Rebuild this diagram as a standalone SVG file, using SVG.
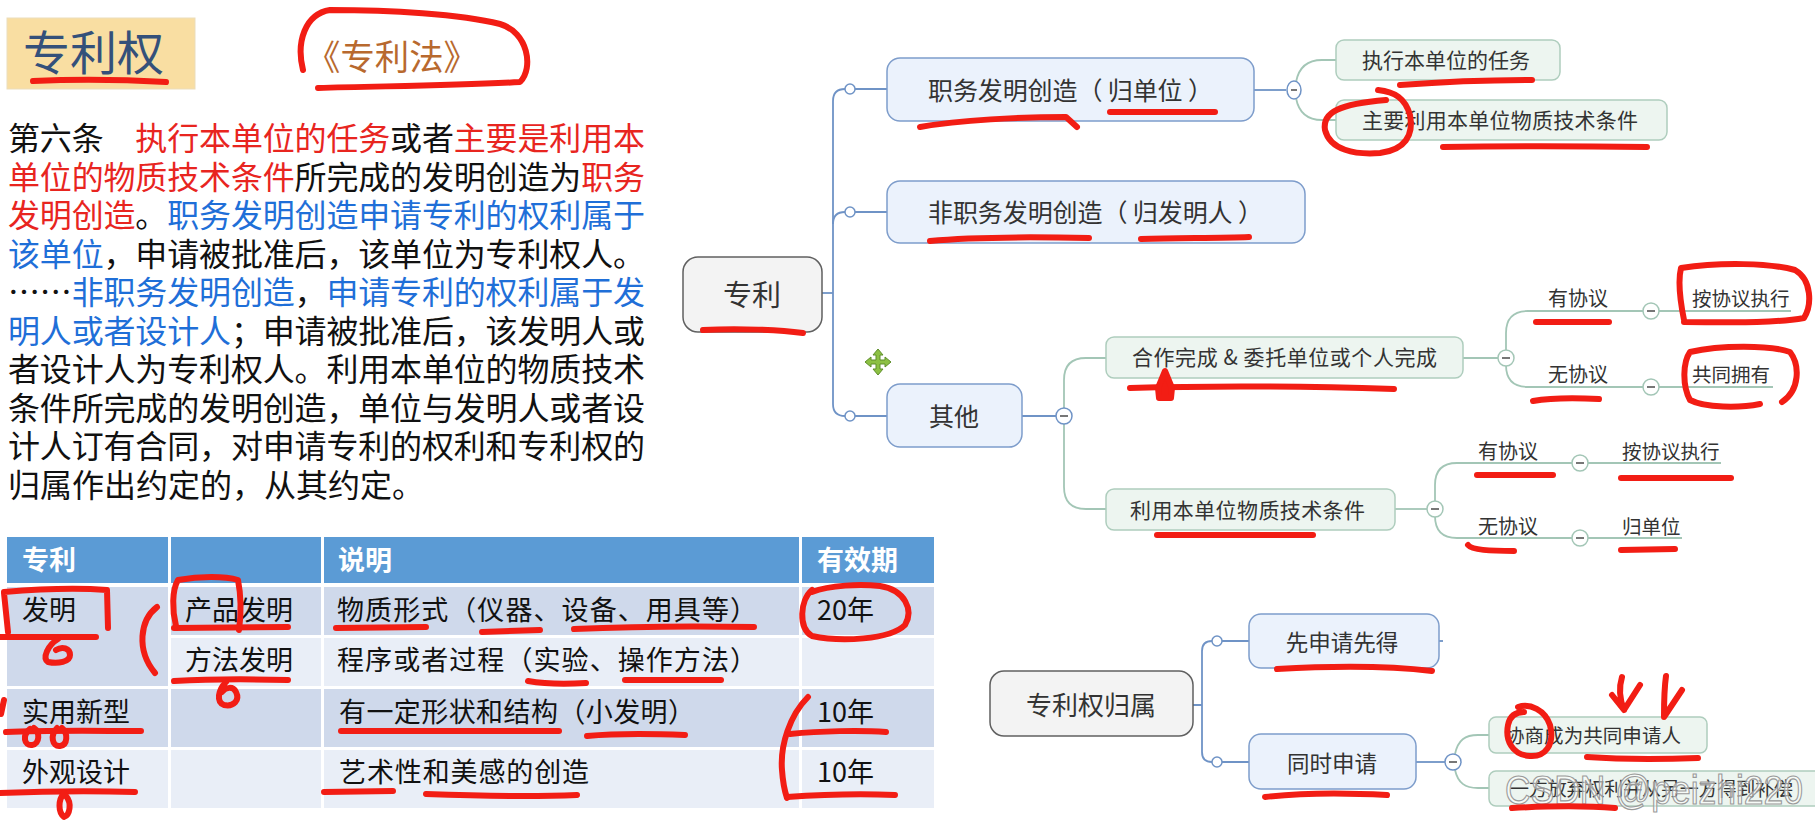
<svg xmlns="http://www.w3.org/2000/svg" width="1815" height="821" viewBox="0 0 1815 821">
<defs>
<style>
.f{font-family:"Noto Sans CJK SC","Noto Sans",sans-serif}
.p{font-size:32px;fill:#111}
.r{fill:#E8251F}
.b{fill:#1F6FD8}
.tc{font-size:27px;fill:#111}
.th{font-size:27px;fill:#fff;font-weight:bold}
.dk{fill:#CFD9EB}
.lt{fill:#E9EEF7}
.hd{fill:#5B9BD5}
.mt{fill:#333}
.root{fill:#F3F3F3;stroke:#606060;stroke-width:1.5}
.blue{fill:#EBF2FC;stroke:#7E9DCB;stroke-width:1.5}
.green{fill:#EDF5F0;stroke:#AECDBD;stroke-width:1.5}
.cb{fill:none;stroke:#6F93C6;stroke-width:1.8}
.cg{fill:none;stroke:#A3C6B6;stroke-width:1.8}
.dot{fill:#fff;stroke:#6F93C6;stroke-width:1.5}
.mb{fill:#fff;stroke:#6F93C6;stroke-width:1.5}
.mg{fill:#fff;stroke:#A3C6B6;stroke-width:1.5}
.ms{stroke:#555;stroke-width:1.6}
.ink{fill:none;stroke:#F21D14;stroke-width:6;stroke-linecap:round;stroke-linejoin:round}
</style>
</defs>
<rect width="1815" height="821" fill="#fff"/>

<!-- Title -->
<g id="title">
<rect x="7" y="18" width="188" height="71" fill="#F9DEA2" stroke="#EBDDBB" stroke-width="1"/>
<text class="f" x="23" y="70" font-size="47" fill="#34507A">专利权</text>
</g>
<g id="law">
<text class="f" x="306" y="70" font-size="35" fill="#B8692E" textLength="172" lengthAdjust="spacingAndGlyphs">《专利法》</text>
</g>

<!-- Paragraph -->
<g id="article">
<text class="f p" x="8" y="150" textLength="637">第六条　<tspan class="r">执行本单位的任务</tspan>或者<tspan class="r">主要是利用本</tspan></text>
<text class="f p" x="8" y="188.5" textLength="637"><tspan class="r">单位的物质技术条件</tspan>所完成的发明创造为<tspan class="r">职务</tspan></text>
<text class="f p" x="8" y="227" textLength="637"><tspan class="r">发明创造</tspan>。<tspan class="b">职务发明创造申请专利的权利属于</tspan></text>
<text class="f p" x="8" y="265.5" textLength="637"><tspan class="b">该单位</tspan>，申请被批准后，该单位为专利权人。</text>
<text class="f p" x="8" y="304" textLength="637">……<tspan class="b">非职务发明创造</tspan>，<tspan class="b">申请专利的权利属于发</tspan></text>
<text class="f p" x="8" y="342.5" textLength="637"><tspan class="b">明人或者设计人</tspan>；申请被批准后，该发明人或</text>
<text class="f p" x="8" y="381" textLength="637">者设计人为专利权人。利用本单位的物质技术</text>
<text class="f p" x="8" y="419.5" textLength="637">条件所完成的发明创造，单位与发明人或者设</text>
<text class="f p" x="8" y="458" textLength="637">计人订有合同，对申请专利的权利和专利权的</text>
<text class="f p" x="8" y="496.5">归属作出约定的，从其约定。</text>
</g>

<!-- Table -->
<g id="table">
<rect class="hd" x="7" y="537" width="161" height="46"/>
<rect class="hd" x="171" y="537" width="150" height="46"/>
<rect class="hd" x="324" y="537" width="475" height="46"/>
<rect class="hd" x="802" y="537" width="132" height="46"/>
<rect class="dk" x="7" y="587" width="161" height="99"/>
<rect class="dk" x="171" y="587" width="150" height="48"/>
<rect class="dk" x="324" y="587" width="475" height="48"/>
<rect class="dk" x="802" y="587" width="132" height="48"/>
<rect class="lt" x="171" y="638" width="150" height="48"/>
<rect class="lt" x="324" y="638" width="475" height="48"/>
<rect class="lt" x="802" y="638" width="132" height="48"/>
<rect class="dk" x="7" y="689" width="161" height="58"/>
<rect class="dk" x="171" y="689" width="150" height="58"/>
<rect class="dk" x="324" y="689" width="475" height="58"/>
<rect class="dk" x="802" y="689" width="132" height="58"/>
<rect class="lt" x="7" y="750" width="161" height="58"/>
<rect class="lt" x="171" y="750" width="150" height="58"/>
<rect class="lt" x="324" y="750" width="475" height="58"/>
<rect class="lt" x="802" y="750" width="132" height="58"/>
<text class="f th" x="22" y="570">专利</text>
<text class="f th" x="338" y="570">说明</text>
<text class="f th" x="817" y="570">有效期</text>
<text class="f tc" x="22" y="620">发明</text>
<text class="f tc" x="185" y="620">产品发明</text>
<text class="f tc" x="337" y="620" textLength="420">物质形式（仪器、设备、用具等）</text>
<text class="f tc" x="817" y="620">20年</text>
<text class="f tc" x="185" y="670">方法发明</text>
<text class="f tc" x="337" y="670" textLength="420">程序或者过程（实验、操作方法）</text>
<text class="f tc" x="22" y="722">实用新型</text>
<text class="f tc" x="339" y="722" textLength="356">有一定形状和结构（小发明）</text>
<text class="f tc" x="817" y="722">10年</text>
<text class="f tc" x="22" y="782">外观设计</text>
<text class="f tc" x="339" y="782" textLength="250">艺术性和美感的创造</text>
<text class="f tc" x="817" y="782">10年</text>
</g>

<!-- Connectors -->
<g id="connectors">
<path class="cb" d="M822,293 H833"/>
<path class="cb" d="M845,89 Q833,89 833,101 V404 Q833,416 845,416"/>
<path class="cb" d="M833,224 Q833,212 845,212"/>
<path class="cb" d="M855,89 H887 M855,212 H887 M855,416 H887"/>
<path class="cb" d="M1254,90 H1286"/>
<path class="cg" d="M1296,82 C1299,66 1308,60 1322,60 H1336 M1296,98 C1299,114 1308,120 1322,120 H1336"/>
<path class="cb" d="M1022,416 H1056"/>
<path class="cg" d="M1064,408 V380 Q1064,358 1086,358 H1106 M1064,424 V487 Q1064,509 1086,509 H1106"/>
<path class="cg" d="M1463,358 H1498"/>
<path class="cg" d="M1506,350 V333 Q1506,311 1528,311 H1643 M1659,311 H1791"/>
<path class="cg" d="M1506,366 V365 Q1506,387 1528,387 H1643 M1659,387 H1773"/>
<path class="cg" d="M1395,509 H1427"/>
<path class="cg" d="M1435,501 V485 Q1435,463 1457,463 H1572 M1588,463 H1721"/>
<path class="cg" d="M1435,517 V516 Q1435,538 1457,538 H1572 M1588,538 H1682"/>
<path class="cb" d="M1193,705 H1202 M1212,641 Q1202,641 1202,651 V752 Q1202,762 1212,762"/>
<path class="cb" d="M1222,641 H1249 M1222,762 H1249"/>
<path class="cb" d="M1439,641 H1443"/>
<path class="cb" d="M1416,762 H1445"/>
<path class="cg" d="M1455,754 C1458,740 1465,735 1478,735 H1489 M1455,770 C1458,783 1465,788 1478,788 H1489"/>
<circle class="dot" cx="850" cy="89" r="5"/>
<circle class="dot" cx="850" cy="212" r="5"/>
<circle class="dot" cx="850" cy="416" r="5"/>
<circle class="dot" cx="1217" cy="641" r="5"/>
<circle class="dot" cx="1217" cy="762" r="5"/>
<g>
<ellipse class="mb" cx="1294" cy="90" rx="7" ry="9"/><path class="ms" d="M1291,90 H1297"/>
<circle class="mb" cx="1064" cy="416" r="8"/><path class="ms" d="M1060,416 H1068"/>
<circle class="mg" cx="1506" cy="358" r="8"/><path class="ms" d="M1502,358 H1510"/>
<circle class="mg" cx="1651" cy="311" r="8"/><path class="ms" d="M1647,311 H1655"/>
<circle class="mg" cx="1651" cy="387" r="8"/><path class="ms" d="M1647,387 H1655"/>
<circle class="mg" cx="1435" cy="509" r="8"/><path class="ms" d="M1431,509 H1439"/>
<circle class="mg" cx="1580" cy="463" r="8"/><path class="ms" d="M1576,463 H1584"/>
<circle class="mg" cx="1580" cy="538" r="8"/><path class="ms" d="M1576,538 H1584"/>
<circle class="mb" cx="1453" cy="762" r="8"/><path class="ms" d="M1449,762 H1457"/>
</g>
</g>

<!-- Nodes -->
<g id="n-zhuanli">
<rect class="root" x="683" y="257" width="139" height="75" rx="15"/>
<text class="f mt" x="752" y="306" font-size="29" text-anchor="middle">专利</text>
</g>
<g id="n-zhiwu">
<rect class="blue" x="887" y="58" width="367" height="63" rx="13"/>
<text class="f mt" x="928" y="100" font-size="25" textLength="285">职务发明创造（ 归单位 ）</text>
</g>
<g id="n-feizhiwu">
<rect class="blue" x="887" y="181" width="418" height="62" rx="13"/>
<text class="f mt" x="928" y="222" font-size="25" textLength="335">非职务发明创造（ 归发明人 ）</text>
</g>
<g id="n-qita">
<rect class="blue" x="887" y="384" width="135" height="63" rx="13"/>
<text class="f mt" x="954" y="426" font-size="25" text-anchor="middle">其他</text>
</g>
<g id="n-renwu">
<rect class="green" x="1336" y="40" width="224" height="40" rx="8"/>
<text class="f mt" x="1362" y="68" font-size="21" textLength="168">执行本单位的任务</text>
</g>
<g id="n-tiaojian">
<rect class="green" x="1336" y="100" width="331" height="40" rx="8"/>
<text class="f mt" x="1362" y="128" font-size="21" textLength="276">主要利用本单位物质技术条件</text>
</g>
<g id="n-hezuo">
<rect class="green" x="1106" y="337" width="357" height="41" rx="8"/>
<text class="f mt" x="1132" y="365" font-size="21" textLength="305">合作完成 &amp; 委托单位或个人完成</text>
</g>
<g id="n-liyong">
<rect class="green" x="1106" y="489" width="289" height="41" rx="8"/>
<text class="f mt" x="1130" y="518" font-size="21" textLength="235">利用本单位物质技术条件</text>
</g>
<g id="n-you1"><text class="f mt" x="1548" y="306" font-size="20">有协议</text></g>
<g id="n-an1"><text class="f mt" x="1692" y="306" font-size="19.5">按协议执行</text></g>
<g id="n-wu1"><text class="f mt" x="1548" y="382" font-size="20">无协议</text></g>
<g id="n-gong"><text class="f mt" x="1692" y="382" font-size="19.5">共同拥有</text></g>
<g id="n-you2"><text class="f mt" x="1478" y="459" font-size="20">有协议</text></g>
<g id="n-an2"><text class="f mt" x="1622" y="459" font-size="19.5">按协议执行</text></g>
<g id="n-wu2"><text class="f mt" x="1478" y="534" font-size="20">无协议</text></g>
<g id="n-gui"><text class="f mt" x="1622" y="534" font-size="19.5">归单位</text></g>
<g id="n-guishu">
<rect class="root" x="990" y="671" width="203" height="65" rx="14"/>
<text class="f mt" x="1091" y="715" font-size="26" text-anchor="middle">专利权归属</text>
</g>
<g id="n-xian">
<rect class="blue" x="1249" y="614" width="190" height="54" rx="12"/>
<text class="f mt" x="1342" y="651" font-size="22.5" text-anchor="middle">先申请先得</text>
</g>
<g id="n-tongshi">
<rect class="blue" x="1249" y="734" width="167" height="55" rx="12"/>
<text class="f mt" x="1332" y="772" font-size="22.5" text-anchor="middle">同时申请</text>
</g>
<g id="n-xieshang">
<rect class="green" x="1489" y="717" width="218" height="36" rx="7"/>
<text class="f mt" x="1505" y="743" font-size="19.5" textLength="176">协商成为共同申请人</text>
</g>
<g id="n-fangqi">
<rect class="green" x="1489" y="771" width="340" height="35" rx="7"/>
<text class="f mt" x="1510" y="796" font-size="19" textLength="283">一方放弃权利并从另一方得到补偿</text>
</g>

<!-- move cursor -->
<g id="cursor" transform="translate(878,362)">
<path d="M0,-13 L5,-7 L2,-7 L2,-2 L7,-2 L7,-5 L13,0 L7,5 L7,2 L2,2 L2,7 L5,7 L0,13 L-5,7 L-2,7 L-2,2 L-7,2 L-7,5 L-13,0 L-7,-5 L-7,-2 L-2,-2 L-2,-7 L-5,-7 Z" fill="#8CC043" stroke="#5E8E2A" stroke-width="1"/>
</g>

<!-- watermark -->
<text x="1505" y="804" font-family="Liberation Sans, sans-serif" font-size="40" fill="#fff" fill-opacity="0.55" stroke="#9a9a9a" stroke-width="1.2" textLength="298" lengthAdjust="spacingAndGlyphs">CSDN @peizhi220</text>

<!-- red handwriting -->
<g id="ink" class="ink">
<path d="M33,81 C80,79 130,80 166,82"/>
<path d="M303,70 C296,42 305,14 330,10 C390,10 460,14 500,24 C528,32 534,68 520,82 C450,86 380,86 318,88"/>
<path d="M4,593 L8,632 M4,592 C40,589 80,588 107,590 L108,628 M1,637 L96,637"/>
<path d="M58,639 C48,645 42,658 48,662 C58,664 70,662 70,655 C70,648 62,646 56,650"/>
<path d="M157,607 C140,620 136,650 155,673"/>
<path d="M176,626 C172,610 172,590 178,580 C200,576 225,576 238,580 C241,595 241,615 239,630"/>
<path d="M174,628 L288,627"/>
<path d="M174,681 C210,679 250,679 288,680"/>
<path d="M226,682 C218,690 216,702 224,705 C234,707 240,700 236,692 C233,686 226,687 222,692"/>
<path d="M336,628 L426,627"/>
<path d="M482,632 L540,630"/>
<path d="M574,629 C640,626 700,626 754,627"/>
<path d="M812,590 C800,600 798,628 812,636 C840,642 890,640 905,625 C914,610 905,590 880,586 C860,584 830,585 812,592"/>
<path d="M528,681 C545,684 570,684 586,683"/>
<path d="M625,680 L721,680"/>
<path d="M4,700 L1,714"/>
<path d="M6,732 C50,730 100,731 141,731"/>
<path d="M30,729 C22,735 24,746 32,745 C40,744 40,732 34,728 M57,728 C50,735 52,747 60,746 C68,745 68,733 62,728"/>
<path d="M341,731 L559,731"/>
<path d="M587,736 C620,733 660,734 685,735"/>
<path d="M808,697 C790,715 780,745 782,770 C783,785 785,792 787,798"/>
<path d="M790,734 C820,731 860,730 886,732"/>
<path d="M787,797 C830,794 870,794 895,795"/>
<path d="M0,793 C50,791 100,791 135,792"/>
<path d="M64,793 C58,800 58,812 64,817 C70,815 72,803 66,796"/>
<path d="M324,792 L393,791"/>
<path d="M426,794 C480,796 530,797 577,795"/>
<path d="M920,127 C960,120 1020,117 1066,117 L1077,127"/>
<path d="M1110,112 L1215,112"/>
<path d="M930,241 C970,237 1040,237 1089,238"/>
<path d="M1141,239 C1180,238 1220,238 1249,237"/>
<path d="M1400,85 C1440,82 1490,80 1532,80"/>
<path d="M1378,90 C1395,92 1405,98 1410,115 C1414,135 1405,150 1380,153 C1355,155 1330,150 1325,130 C1322,112 1340,104 1386,100"/>
<path d="M1443,147 C1500,146 1580,146 1647,147"/>
<path d="M703,330 C740,328 780,330 803,333"/>
<path d="M1130,388 C1200,386 1300,386 1394,389"/>
<path d="M1165,371 L1158,388 L1159,398 L1171,398 L1172,388 Z" fill="#F21D14"/>
<path d="M1536,322 L1609,322"/>
<path d="M1684,320 C1680,300 1678,280 1681,268 C1720,262 1770,263 1795,270 C1812,280 1812,305 1804,318 C1770,324 1720,322 1684,322"/>
<path d="M1533,401 C1550,398 1580,398 1599,399"/>
<path d="M1760,404 C1740,408 1705,408 1690,400 C1682,385 1683,362 1690,352 C1720,345 1770,345 1790,352 C1800,365 1800,390 1782,402"/>
<path d="M1157,535 L1313,535"/>
<path d="M1477,475 L1553,475"/>
<path d="M1621,478 L1731,478"/>
<path d="M1468,545 C1472,550 1490,551 1514,551"/>
<path d="M1621,550 L1675,549"/>
<path d="M1277,669 C1330,666 1390,666 1432,671"/>
<path d="M1265,797 C1300,793 1350,793 1387,795"/>
<path d="M1518,707 C1530,703 1545,710 1550,725 C1555,745 1545,757 1530,756 C1512,755 1505,740 1508,725 C1510,715 1516,712 1524,712"/>
<path d="M1587,757 C1630,760 1670,759 1698,758"/>
<path d="M1512,808 C1550,806 1590,806 1615,808"/>
<path d="M1622,677 C1618,690 1620,700 1624,710 M1612,695 L1624,710 L1640,685"/>
<path d="M1666,676 C1664,690 1664,705 1664,717 L1682,690"/>
</g>
</svg>
